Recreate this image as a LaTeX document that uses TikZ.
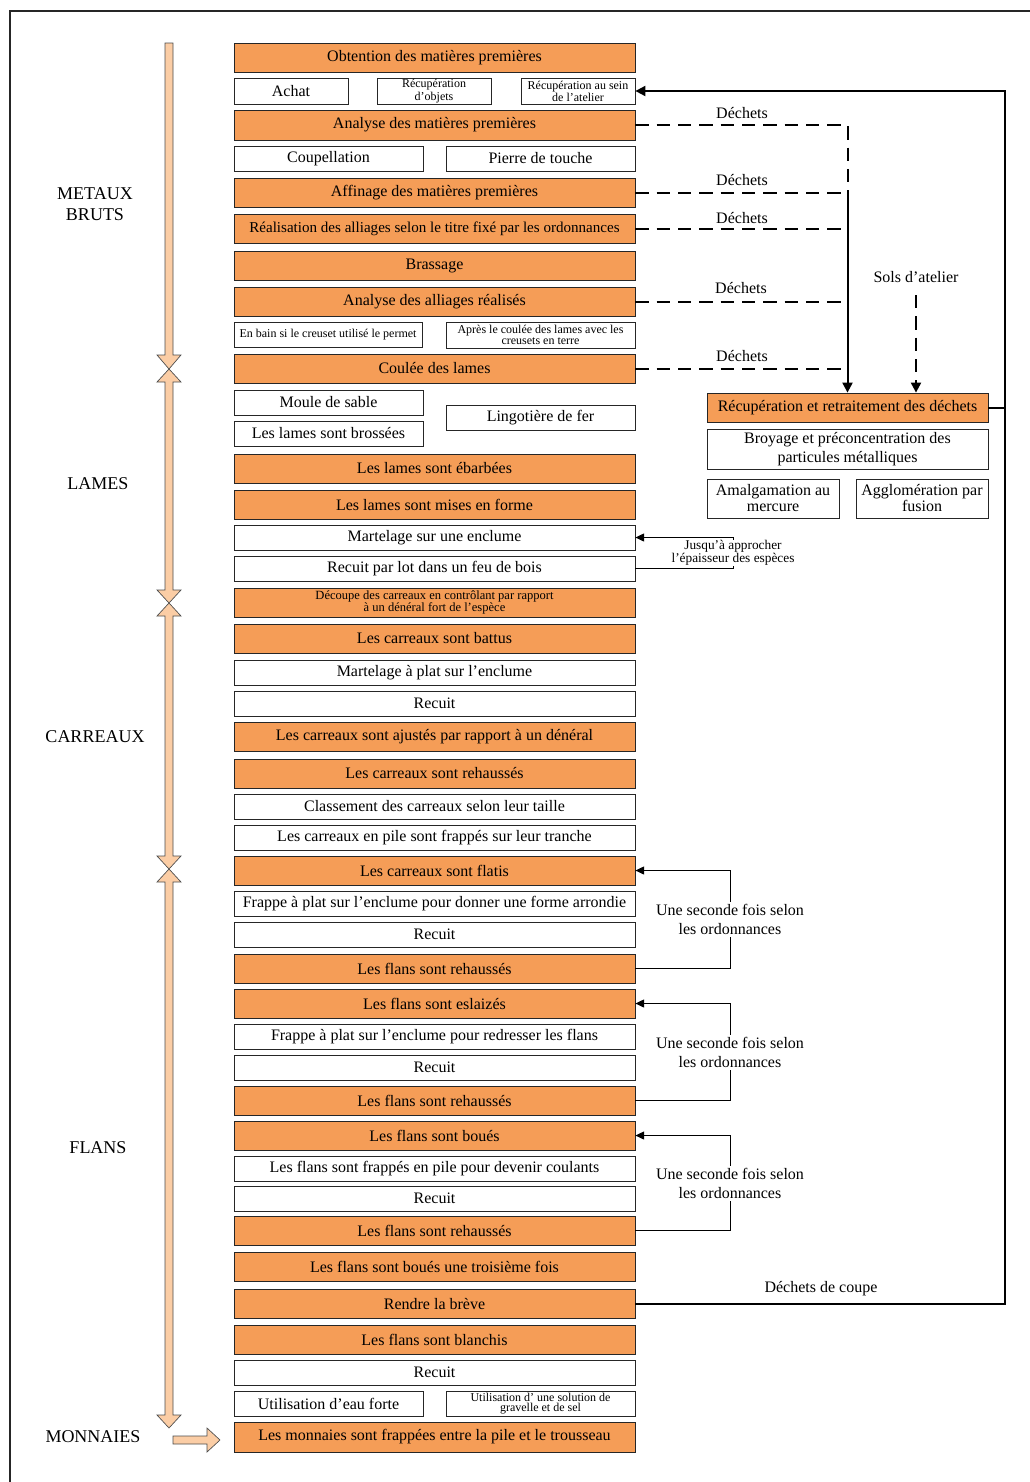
\documentclass[tikz,border=0pt]{standalone}
\usepackage{fontspec}
\setmainfont{Liberation Serif}
\usetikzlibrary{arrows.meta,calc}
\definecolor{orng}{HTML}{F59D57}
\definecolor{peach}{HTML}{FBCDA5}
\newcommand\mybox[7]{%
  \pgfmathsetmacro\bw{(#5-#3)*0.75}%
  \pgfmathsetmacro\bh{(#6-#4)*0.75}%
  \node[#2, minimum width=\bw pt, minimum height=\bh pt] (#1) at ({(#3+#5)/2},{(#4+#6)/2}) {#7};%
}
\newcommand\mrow[5]{\mybox{#1}{#2}{234}{#3}{635}{#4}{#5}}
\begin{document}
\begin{tikzpicture}[x=0.75pt,y=-0.75pt,
  bx/.style={draw=black!85, line width=0.6pt, inner sep=0pt, align=center, font=\fontsize{12}{13}\selectfont},
  ob/.style={bx, fill=orng},
  wb/.style={bx, fill=white},
  small/.style={font=\fontsize{9}{8}\selectfont},
  smallb/.style={font=\fontsize{9.4}{9.6}\selectfont},
  side/.style={align=center, font=\fontsize{13.5}{15.5}\selectfont},
  lbl/.style={align=center, font=\fontsize{12}{14}\selectfont},
  dsh/.style={line width=1.5pt, dash pattern=on 10pt off 6pt},
  heavy/.style={line width=1.5pt},
  thinl/.style={line width=0.7pt},
  tip/.style={-{Triangle[length=7.5pt,width=7.5pt]}},
  tips/.style={-{Triangle[length=6.5pt,width=6pt]}},
  bigarrow/.style={fill=peach, draw=black!70, line width=0.5pt, line join=miter}
]
\useasboundingbox (0,0) rectangle (1030,1482);
% frame
\draw[line width=0.8pt, black!85] (10,1482) -- (10,11) -- (1030,11);

% main column
\mrow{obt}{ob}{43}{72}{Obtention des matières premières}
\mybox{achat}{wb}{234}{78}{348}{104}{Achat}
\mybox{recobj}{wb,small}{377}{78}{491}{104}{Récupération\\d’objets}
\mybox{recat}{wb,small}{521}{78}{635}{104}{Récupération au sein\\de l’atelier}
\mrow{anmp}{ob}{110}{140}{Analyse des matières premières}
\mybox{coup}{wb}{234}{146}{423}{171}{Coupellation}
\mybox{pierre}{wb}{446}{146}{635}{171}{Pierre de touche}
\mrow{aff}{ob}{178}{207}{Affinage des matières premières}
\mrow{real}{ob,font=\fontsize{11.3}{13}\selectfont}{214}{243}{Réalisation des alliages selon le titre fixé par les ordonnances}
\mrow{bras}{ob}{251}{280}{Brassage}
\mrow{anal}{ob}{287}{316}{Analyse des alliages réalisés}
\mybox{bain}{wb,small}{234}{322}{422}{347}{En bain si le creuset utilisé le permet}
\mybox{apres}{wb,small}{446}{322}{635}{348}{Après le coulée des lames avec les\\creusets en terre}
\mrow{coul}{ob}{354}{383}{Coulée des lames}
\mybox{moule}{wb}{234}{390}{423}{415}{Moule de sable}
\mybox{lingo}{wb}{446}{405}{635}{430}{Lingotière de fer}
\mybox{bross}{wb}{234}{421}{423}{446}{Les lames sont brossées}
\mrow{ebarb}{ob}{454}{483}{Les lames sont ébarbées}
\mrow{forme}{ob}{490}{519}{Les lames sont mises en forme}
\mrow{mart}{wb}{525}{550}{Martelage sur une enclume}
\mrow{rlot}{wb}{556}{581}{Recuit par lot dans un feu de bois}
\mrow{decoup}{ob,smallb}{588}{617}{Découpe des carreaux en contrôlant par rapport\\à un dénéral fort de l’espèce}
\mrow{battus}{ob}{624}{653}{Les carreaux sont battus}
\mrow{mplat}{wb}{660}{685}{Martelage à plat sur l’enclume}
\mrow{reca}{wb}{691}{716}{Recuit}
\mrow{ajust}{ob}{722}{751}{Les carreaux sont ajustés par rapport à un dénéral}
\mrow{crreh}{ob}{759}{788}{Les carreaux sont rehaussés}
\mrow{class}{wb}{794}{819}{Classement des carreaux selon leur taille}
\mrow{pile}{wb}{825}{850}{Les carreaux en pile sont frappés sur leur tranche}
\mrow{flatis}{ob}{856}{885}{Les carreaux sont flatis}
\mrow{frapa}{wb}{891}{916}{Frappe à plat sur l’enclume pour donner une forme arrondie}
\mrow{recb}{wb}{922}{947}{Recuit}
\mrow{freha}{ob}{954}{983}{Les flans sont rehaussés}
\mrow{eslai}{ob}{989}{1018}{Les flans sont eslaizés}
\mrow{frapb}{wb}{1024}{1049}{Frappe à plat sur l’enclume pour redresser les flans}
\mrow{recc}{wb}{1055}{1080}{Recuit}
\mrow{frehb}{ob}{1086}{1115}{Les flans sont rehaussés}
\mrow{boue}{ob}{1121}{1150}{Les flans sont boués}
\mrow{fpile}{wb}{1156}{1181}{Les flans sont frappés en pile pour devenir coulants}
\mrow{recd}{wb}{1186}{1211}{Recuit}
\mrow{frehc}{ob}{1216}{1245}{Les flans sont rehaussés}
\mrow{bouet}{ob}{1252}{1281}{Les flans sont boués une troisième fois}
\mrow{breve}{ob}{1289}{1318}{Rendre la brève}
\mrow{blanch}{ob}{1325}{1354}{Les flans sont blanchis}
\mrow{rece}{wb}{1360}{1385}{Recuit}
\mybox{eau}{wb}{234}{1391}{423}{1416}{Utilisation d’eau forte}
\mybox{sol}{wb,small}{446}{1391}{635}{1416}{Utilisation d’ une solution de\\gravelle et de sel}
\mrow{monn}{ob}{1422}{1452}{Les monnaies sont frappées entre la pile et le trousseau}

% right column
\mybox{rdech}{ob}{707}{393}{988}{422}{Récupération et retraitement des déchets}
\mybox{broy}{wb,font=\fontsize{12}{14.5}\selectfont}{707}{429}{988}{469}{Broyage et préconcentration des\\particules métalliques}
\mybox{amal}{wb,font=\fontsize{12}{12}\selectfont}{707}{479}{839}{518}{Amalgamation au\\mercure}
\mybox{agglo}{wb,font=\fontsize{12}{12}\selectfont}{856}{479}{988}{518}{Agglomération par\\fusion}

% side labels
\node[side] (lmb) at (95,204) {METAUX\\BRUTS};
\node[side] (llam) at (98,484) {LAMES};
\node[side] (lcar) at (95,737) {CARREAUX};
\node[side] (lfla) at (98,1148) {FLANS};
\node[side] (lmon) at (93,1437) {MONNAIES};

% big outline arrows
\draw[bigarrow] (165,43) -- (173,43) -- (173,355) -- (181,355) -- (169,369) -- (157,355) -- (165,355) -- cycle;
\draw[bigarrow] (169,369) -- (181,382) -- (173,382) -- (173,590) -- (181,590) -- (169,603) -- (157,590) -- (165,590) -- (165,382) -- (157,382) -- cycle;
\draw[bigarrow] (169,603) -- (181,616) -- (173,616) -- (173,856) -- (181,856) -- (169,869) -- (157,856) -- (165,856) -- (165,616) -- (157,616) -- cycle;
\draw[bigarrow] (169,869) -- (181,882) -- (173,882) -- (173,1415) -- (181,1415) -- (169,1428) -- (157,1415) -- (165,1415) -- (165,882) -- (157,882) -- cycle;
\draw[bigarrow] (173,1436) -- (207,1436) -- (207,1428) -- (220,1440) -- (207,1452) -- (207,1444) -- (173,1444) -- cycle;

% waste (dashed) connectors
\draw[dsh] (anmp.east) -- (anmp.east -| rdech.north) -- (aff.east -| rdech.north);
\draw[dsh] (aff.east) -- (aff.east -| rdech.north);
\draw[dsh] (real.east) -- (real.east -| rdech.north);
\draw[dsh] (anal.east) -- (anal.east -| rdech.north);
\draw[dsh] (coul.east) -- (coul.east -| rdech.north);
\draw[heavy,tip] (aff.east -| rdech.north) -- (rdech.north);
\node[lbl] (d1) at (742,113) {Déchets};
\node[lbl] (d2) at (742,180) {Déchets};
\node[lbl] (d3) at (742,218) {Déchets};
\node[lbl] (d4) at (741,288) {Déchets};
\node[lbl] (d5) at (742,356) {Déchets};
\node[lbl] (sols) at (916,277) {Sols d’atelier};
\coordinate (solsa) at (916,295);
\draw[dsh,tip] (solsa) -- (solsa |- rdech.north);

% return line
\coordinate (rtop) at (1005,91);
\coordinate (rbot) at (1005,1304);
\draw[heavy,tip] (rdech.east) -- (rdech.east -| rtop) -- (rtop) -- (recat.east);
\draw[heavy] (breve.east) -- (breve.east -| rbot) -- (rtop);
\node[lbl] (dcoupe) at (821,1289) {Déchets de coupe};

% bracket: Jusqu'à approcher
\coordinate (jq) at (733,0);
\draw[thinl,tips] (rlot.east) -- (rlot.east -| jq) -- (mart.east -| jq) -- (mart.east);
\node[align=center, fill=white, inner sep=0.3pt, font=\fontsize{10}{8.3}\selectfont] (jus) at (733,553) {Jusqu’à approcher\\l’épaisseur des espèces};

% brackets: une seconde fois
\coordinate (sf) at (730,0);
\draw[thinl,tips] (freha.east) -- (freha.east -| sf) -- (flatis.east -| sf) -- (flatis.east);
\draw[thinl,tips] (frehb.east) -- (frehb.east -| sf) -- (eslai.east -| sf) -- (eslai.east);
\draw[thinl,tips] (frehc.east) -- (frehc.east -| sf) -- (boue.east -| sf) -- (boue.east);
\node[lbl, fill=white, inner sep=2pt] (sf1) at (730,919.5) {Une seconde fois selon\\les ordonnances};
\node[lbl, fill=white, inner sep=2pt] (sf2) at (730,1052.5) {Une seconde fois selon\\les ordonnances};
\node[lbl, fill=white, inner sep=2pt] (sf3) at (730,1183.5) {Une seconde fois selon\\les ordonnances};
\end{tikzpicture}
\end{document}
